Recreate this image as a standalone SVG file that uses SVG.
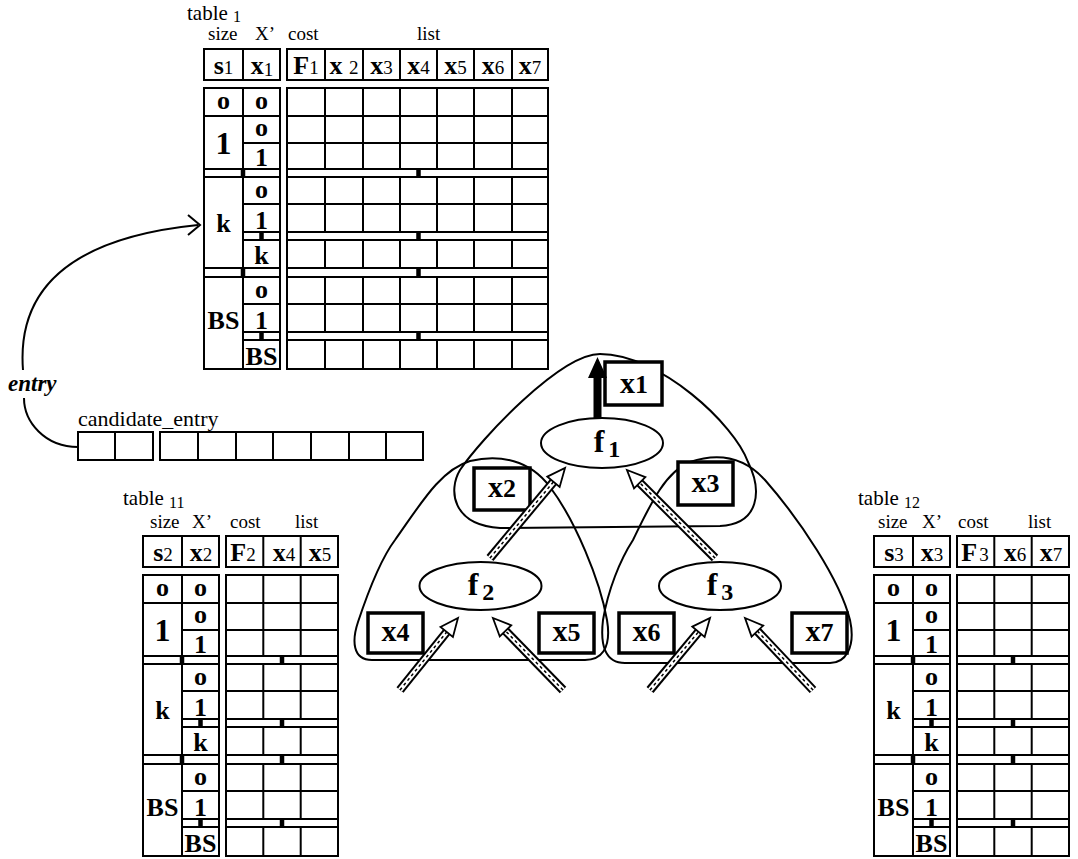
<svg xmlns="http://www.w3.org/2000/svg" width="1078" height="859" viewBox="0 0 1078 859">
<style>
.ln{fill:none;stroke:#000;stroke-width:2}
.tk{fill:none;stroke:#000;stroke-width:4.5}
text{font-family:"Liberation Serif","Times New Roman",serif;fill:#000}
.lbl{font-size:19px}
.ttl{font-size:21px}
.hd{font-size:26px;font-weight:bold;text-anchor:middle}
.sub{font-size:19px;font-weight:normal}
.bd{font-size:26px;font-weight:bold;text-anchor:middle}
.big{font-size:32px}
.rg{fill:none;stroke:#000;stroke-width:2}
.box{fill:#fff;stroke:#000;stroke-width:3.5}
.bt{font-size:30px;font-weight:bold;text-anchor:middle}
.bs{font-size:26px}
.ell{fill:#fff;stroke:#000;stroke-width:2}
.ft{font-size:32px;font-weight:bold;text-anchor:middle}
.fs{font-size:24px}
.h1{stroke:#000;stroke-width:9}
.h2{stroke:#fff;stroke-width:5}
.h3{stroke:#000;stroke-width:1.5;stroke-dasharray:3 3;marker-end:url(#hh)}
</style>
<defs>
<marker id="hh" markerUnits="userSpaceOnUse" markerWidth="30" markerHeight="30" refX="0" refY="0" orient="auto" overflow="visible">
<path d="M0,-8 L18,0 L0,8 Z" fill="#fff" stroke="#000" stroke-width="1.8"/>
</marker>
<g id="lhead"><rect class="ln" width="76" height="31"/><path class="ln" d="M39,0V31"/></g>
<g id="rhead3"><rect class="ln" width="112" height="31"/><path class="ln" d="M37.3,0V31M74.7,0V31"/></g>
<g id="rhead7"><rect class="ln" width="261" height="31"/><path class="ln" d="M38,0V31M76,0V31M113,0V31M150,0V31M187,0V31M225,0V31"/></g>
<g id="lbody">
<rect class="ln" width="76" height="281"/>
<path class="ln" d="M0,28H76M0,81H76M0,89H76M0,180H76M0,189H76M39,55H76M39,116H76M39,144H76M39,152H76M39,216H76M39,244H76M39,252H76M39,0V81M39,89V180M39,189V281"/>
<path class="tk" d="M39,81V89M39,180V189M57.5,144V152M57.5,244V252"/>
</g>
<g id="rbody3">
<rect class="ln" width="112" height="281"/>
<path class="ln" d="M0,28H112M0,55H112M0,81H112M0,89H112M0,116H112M0,144H112M0,152H112M0,180H112M0,189H112M0,216H112M0,244H112M0,252H112M37.3,0V81M37.3,89V144M37.3,152V180M37.3,189V244M37.3,252V281M74.7,0V81M74.7,89V144M74.7,152V180M74.7,189V244M74.7,252V281"/>
<path class="tk" d="M56,81V89M56,144V152M56,180V189M56,244V252"/>
</g>
<g id="rbody7">
<rect class="ln" width="261" height="281"/>
<path class="ln" d="M0,28H261M0,55H261M0,81H261M0,89H261M0,116H261M0,144H261M0,152H261M0,180H261M0,189H261M0,216H261M0,244H261M0,252H261M38,0V81M38,89V144M38,152V180M38,189V244M38,252V281M76,0V81M76,89V144M76,152V180M76,189V244M76,252V281M113,0V81M113,89V144M113,152V180M113,189V244M113,252V281M150,0V81M150,89V144M150,152V180M150,189V244M150,252V281M187,0V81M187,89V144M187,152V180M187,189V244M187,252V281M225,0V81M225,89V144M225,152V180M225,189V244M225,252V281"/>
<path class="tk" d="M131.5,81V89M131.5,144V152M131.5,180V189M131.5,244V252"/>
</g>
</defs>
<rect width="1078" height="859" fill="#fff"/>

<g id="table1">
<text class="ttl" x="187" y="20">table <tspan font-size="16" dy="2">1</tspan></text>
<text class="lbl" x="208" y="40">size</text>
<text class="lbl" x="255" y="40">X’</text>
<text class="lbl" x="288" y="40">cost</text>
<text class="lbl" x="417" y="40">list</text>
<use href="#lhead" x="204" y="49"/>
<use href="#rhead7" x="287" y="49"/>
<text class="hd" x="223.5" y="74">s<tspan class="sub">1</tspan></text>
<text class="hd" x="262" y="74">x<tspan class="sub" dy="2">1</tspan></text>
<text class="hd" x="306" y="74">F<tspan class="sub">1</tspan></text>
<text class="hd" x="344" y="74">x <tspan class="sub">2</tspan></text>
<text class="hd" x="381.5" y="74">x<tspan class="sub">3</tspan></text>
<text class="hd" x="418.5" y="74">x<tspan class="sub">4</tspan></text>
<text class="hd" x="455.5" y="74">x<tspan class="sub">5</tspan></text>
<text class="hd" x="493" y="74">x<tspan class="sub">6</tspan></text>
<text class="hd" x="530" y="74">x<tspan class="sub">7</tspan></text>
<use href="#lbody" x="204" y="88"/>
<use href="#rbody7" x="287" y="88"/>
<text class="bd" x="223.5" y="109">o</text>
<text class="bd" x="261.5" y="109">o</text>
<text class="bd big" x="223.5" y="154">1</text>
<text class="bd" x="261.5" y="136">o</text>
<text class="bd" x="261.5" y="166">1</text>
<text class="bd" x="223.5" y="232">k</text>
<text class="bd" x="261.5" y="198">o</text>
<text class="bd" x="261.5" y="229">1</text>
<text class="bd" x="261.5" y="264">k</text>
<text class="bd" x="223.5" y="329">BS</text>
<text class="bd" x="261.5" y="298">o</text>
<text class="bd" x="261.5" y="329">1</text>
<text class="bd" x="261.5" y="365">BS</text>
</g>

<g id="table11">
<text class="ttl" x="123" y="505">table <tspan font-size="16" dy="3">11</tspan></text>
<text class="lbl" x="150" y="528">size</text>
<text class="lbl" x="192" y="528">X’</text>
<text class="lbl" x="230" y="528">cost</text>
<text class="lbl" x="295" y="528">list</text>
<use href="#lhead" x="143" y="536"/>
<use href="#rhead3" x="226" y="536"/>
<text class="hd" x="163" y="561">s<tspan class="sub">2</tspan></text>
<text class="hd" x="201" y="561">x<tspan class="sub">2</tspan></text>
<text class="hd" x="243" y="561">F<tspan class="sub">2</tspan></text>
<text class="hd" x="284" y="561">x<tspan class="sub">4</tspan></text>
<text class="hd" x="320" y="561">x<tspan class="sub">5</tspan></text>
<use href="#lbody" x="143" y="575"/>
<use href="#rbody3" x="226" y="575"/>
<text class="bd" x="162.5" y="596">o</text>
<text class="bd" x="200.5" y="596">o</text>
<text class="bd big" x="162.5" y="641">1</text>
<text class="bd" x="200.5" y="623">o</text>
<text class="bd" x="200.5" y="653">1</text>
<text class="bd" x="162.5" y="719">k</text>
<text class="bd" x="200.5" y="685">o</text>
<text class="bd" x="200.5" y="716">1</text>
<text class="bd" x="200.5" y="751">k</text>
<text class="bd" x="162.5" y="816">BS</text>
<text class="bd" x="200.5" y="785">o</text>
<text class="bd" x="200.5" y="816">1</text>
<text class="bd" x="200.5" y="852">BS</text>
</g>

<g id="table12">
<text class="ttl" x="858" y="505">table <tspan font-size="16" dy="3">12</tspan></text>
<text class="lbl" x="878" y="528">size</text>
<text class="lbl" x="922" y="528">X’</text>
<text class="lbl" x="958" y="528">cost</text>
<text class="lbl" x="1028" y="528">list</text>
<use href="#lhead" x="874" y="536"/>
<use href="#rhead3" x="957" y="536"/>
<text class="hd" x="894" y="561">s<tspan class="sub">3</tspan></text>
<text class="hd" x="932" y="561">x<tspan class="sub">3</tspan></text>
<text class="hd" x="975" y="561">F<tspan class="sub" dx="2">3</tspan></text>
<text class="hd" x="1015" y="561">x<tspan class="sub">6</tspan></text>
<text class="hd" x="1051" y="561">x<tspan class="sub">7</tspan></text>
<use href="#lbody" x="874" y="575"/>
<use href="#rbody3" x="957" y="575"/>
<text class="bd" x="893.5" y="596">o</text>
<text class="bd" x="931.5" y="596">o</text>
<text class="bd big" x="893.5" y="641">1</text>
<text class="bd" x="931.5" y="623">o</text>
<text class="bd" x="931.5" y="653">1</text>
<text class="bd" x="893.5" y="719">k</text>
<text class="bd" x="931.5" y="685">o</text>
<text class="bd" x="931.5" y="716">1</text>
<text class="bd" x="931.5" y="751">k</text>
<text class="bd" x="893.5" y="816">BS</text>
<text class="bd" x="931.5" y="785">o</text>
<text class="bd" x="931.5" y="816">1</text>
<text class="bd" x="931.5" y="852">BS</text>
</g>

<g id="candidate_entry">
<text x="78" y="426" font-size="22">candidate_entry</text>
<rect class="ln" x="78" y="432" width="75" height="28"/>
<path class="ln" d="M115,432V460"/>
<rect class="ln" x="160" y="432" width="263" height="28"/>
<path class="ln" d="M198,432V460M236,432V460M273,432V460M311,432V460M349,432V460M386,432V460"/>
</g>

<g id="regions">
<path id="region_f1" class="rg" d="M600,354 C560,354 480,440 460,470 C448,490 452,525 500,528 L720,526 C760,524 762,490 748,462 C735,425 660,354 600,354 Z"/>
<path id="region_f2" class="rg" d="M395,540 C420,505 440,470 470,461 C500,454 530,460 550,487 C575,520 600,580 607,620 C612,650 600,660 585,660 L372,660 C352,660 352,640 358,622 C368,592 380,560 395,540 Z"/>
<path id="region_f3" class="rg" d="M633,540 C650,505 665,472 690,462 C720,452 745,458 765,480 C800,520 840,580 850,620 C856,648 845,663 830,663 L625,663 C605,663 600,645 603,620 C608,590 620,560 633,540 Z"/>
</g>

<g id="f1"><ellipse class="ell" cx="602" cy="443" rx="61" ry="25"/><text class="ft" x="607" y="452">f<tspan class="fs" dx="4" dy="5">1</tspan></text></g>
<g id="f2"><ellipse class="ell" cx="480.5" cy="586" rx="61" ry="24"/><text class="ft" x="481" y="595">f<tspan class="fs" dx="4" dy="5">2</tspan></text></g>
<g id="f3"><ellipse class="ell" cx="720" cy="586" rx="61" ry="24"/><text class="ft" x="720" y="595">f<tspan class="fs" dx="4" dy="5">3</tspan></text></g>

<g id="x1"><rect class="box" x="605" y="362" width="57" height="43"/><text class="bt" x="634" y="393">x<tspan class="bs">1</tspan></text></g>
<g id="x2"><rect class="box" x="474" y="468" width="56" height="42"/><text class="bt" x="502" y="497">x<tspan class="bs">2</tspan></text></g>
<g id="x3"><rect class="box" x="678" y="462" width="55" height="43"/><text class="bt" x="705.5" y="492">x<tspan class="bs">3</tspan></text></g>
<g id="x4"><rect class="box" x="368" y="613" width="55" height="40"/><text class="bt" x="395.5" y="641">x<tspan class="bs">4</tspan></text></g>
<g id="x5"><rect class="box" x="539" y="613" width="55" height="40"/><text class="bt" x="566.5" y="641">x<tspan class="bs">5</tspan></text></g>
<g id="x6"><rect class="box" x="619" y="613" width="55" height="40"/><text class="bt" x="646.5" y="641">x<tspan class="bs">6</tspan></text></g>
<g id="x7"><rect class="box" x="792" y="613" width="55" height="40"/><text class="bt" x="819.5" y="641">x<tspan class="bs">7</tspan></text></g>

<g id="connectors">
<path class="ln" d="M23,370 C18,305 50,240 198,225"/>
<path class="ln" d="M188,215 L200,225 L188,235"/>
<path class="ln" d="M24,398 C24,422 45,447 78,447"/>
<text x="8" y="391" font-size="23" font-weight="bold" font-style="italic">entry</text>
<path d="M593.5,418 V378 H588 L597.5,357 L607,378 H601.5 V418 Z" fill="#000"/>
<g><line class="h1" x1="490" y1="558" x2="553.5" y2="481.8"/><line class="h2" x1="490" y1="558" x2="553.5" y2="481.8"/><line class="h3" x1="490" y1="558" x2="553.5" y2="481.8"/></g>
<g><line class="h1" x1="715" y1="558" x2="639.7" y2="482.7"/><line class="h2" x1="715" y1="558" x2="639.7" y2="482.7"/><line class="h3" x1="715" y1="558" x2="639.7" y2="482.7"/></g>
<g><line class="h1" x1="400" y1="690" x2="446.7" y2="632"/><line class="h2" x1="400" y1="690" x2="446.7" y2="632"/><line class="h3" x1="400" y1="690" x2="446.7" y2="632"/></g>
<g><line class="h1" x1="563" y1="690" x2="505.5" y2="630.9"/><line class="h2" x1="563" y1="690" x2="505.5" y2="630.9"/><line class="h3" x1="563" y1="690" x2="505.5" y2="630.9"/></g>
<g><line class="h1" x1="650" y1="690" x2="698.5" y2="631.8"/><line class="h2" x1="650" y1="690" x2="698.5" y2="631.8"/><line class="h3" x1="650" y1="690" x2="698.5" y2="631.8"/></g>
<g><line class="h1" x1="813" y1="690" x2="757.4" y2="631.1"/><line class="h2" x1="813" y1="690" x2="757.4" y2="631.1"/><line class="h3" x1="813" y1="690" x2="757.4" y2="631.1"/></g>
</g>
</svg>
